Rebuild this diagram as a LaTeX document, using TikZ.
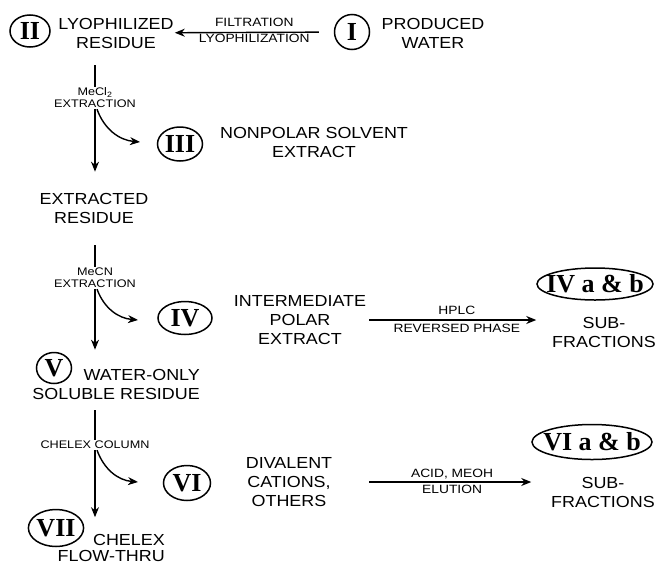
\documentclass[tikz,border=0pt]{standalone}
\usepackage{fontspec}
\setmainfont{Liberation Serif}
\setsansfont[FakeStretch=1.12]{Liberation Sans}
\newfontfamily\lblfont[FakeStretch=1.15]{Liberation Sans}
\usetikzlibrary{shapes.geometric,arrows.meta}

\begin{document}
\begin{tikzpicture}[x=1pt,y=-1pt]
	\tikzstyle{frac} = [ellipse,draw,line width=1.5pt,inner sep=0pt,font=\rmfamily\bfseries\fontsize{26}{26}\selectfont]
	\tikzstyle{txt}  = [align=center,inner sep=1pt,font=\sffamily\fontsize{16}{19}\selectfont]
	\tikzstyle{lbl}  = [align=center,inner sep=1pt,font=\lblfont\fontsize{12}{13}\selectfont]
	\tikzstyle{cut}  = [align=center,inner sep=1pt,fill=white,font=\lblfont\fontsize{11}{12}\selectfont]
	\tikzstyle{arr}  = [-{Stealth[length=10pt,width=8pt]},line width=1.4pt]
	\tikzstyle{stem} = [line width=1.4pt]

	\useasboundingbox (0,0) rectangle (660,565);

	\node[frac,minimum width=35pt,minimum height=35pt] (f1) at (352,32) {I};
	\node[txt] (prod) at (433,33) {PRODUCED\\WATER};
	\node[frac,minimum width=40pt,minimum height=32pt] (f2) at (30,31) {II};
	\node[txt] (lyo) at (116,33) {LYOPHILIZED\\RESIDUE};
	\node[frac,minimum width=45pt,minimum height=34pt] (f3) at (180,144) {III};
	\node[txt] (nonpol) at (314,142) {NONPOLAR SOLVENT\\EXTRACT};
	\node[txt] (extres) at (94,208) {EXTRACTED\\RESIDUE};
	\node[frac,minimum width=54pt,minimum height=33pt] (f4) at (185,318) {IV};
	\node[txt] (interm) at (300,320) {INTERMEDIATE\\POLAR\\EXTRACT};
	\node[frac,minimum width=116pt,minimum height=32pt,inner xsep=-8pt] (f4ab) at (595,284) {IV a \& b};
	\node[txt] (sub4) at (604,332) {SUB-\\FRACTIONS};
	\node[frac,minimum width=35pt,minimum height=31pt] (f5) at (54,368) {V};
	\node[txt,align=right,anchor=east] (wor) at (201,384) {WATER-ONLY\\SOLUBLE RESIDUE};
	\node[frac,minimum width=47pt,minimum height=35pt] (f6) at (187,483) {VI};
	\node[txt] (dival) at (289,482) {DIVALENT\\CATIONS,\\OTHERS};
	\node[frac,minimum width=120pt,minimum height=35pt,inner xsep=-7pt] (f6ab) at (592,442) {VI a \& b};
	\node[txt] (sub6) at (603,492) {SUB-\\FRACTIONS};
	\node[frac,minimum width=53pt,minimum height=37pt] (f7) at (56,528) {VII};
	\node[txt,align=right,anchor=east,font=\sffamily\fontsize{16}{16}\selectfont] (flow) at (166,548) {CHELEX\\FLOW-THRU};

	\node[cut] (ex1) at (95,98) {MeCl\textsubscript{2}\\EXTRACTION};
	\node[cut] (ex2) at (95,278) {MeCN\\EXTRACTION};
	\node[cut] (ex3) at (95,445) {CHELEX COLUMN};

	\coordinate (t3) at (140,142);
	\coordinate (t4) at (138,320);
	\coordinate (t6) at (138,482);

	\draw[arr,shorten <=15pt] (f1) -- (lyo)
		node[lbl,midway,above=4pt] {FILTRATION}
		node[lbl,midway,below=0pt] {LYOPHILIZATION};

	\draw[stem,shorten <=16pt] (lyo.south -| ex1) -- (ex1.north);
	\draw[arr,shorten >=20pt] (ex1.south) -- (ex1.south |- extres.north);
	\draw[arr] ([xshift=2pt]ex1.south) to[out=-70,in=175] (t3);

	\draw[stem,shorten <=21pt] (extres.south -| ex2) -- (ex2.north);
	\draw[arr,shorten >=18pt] (ex2.south) -- (ex2.south |- wor.north);
	\draw[arr] ([xshift=2pt]ex2.south) to[out=-70,in=175] (t4);

	\draw[stem,shorten <=10pt] (wor.south -| ex3) -- (ex3.north);
	\draw[arr,shorten >=16pt] (ex3.south) -- (ex3.south |- flow.north);
	\draw[arr] ([xshift=2pt]ex3.south) to[out=-70,in=175] (t6);

	\draw[arr,shorten <=2pt] (interm.east) -- (interm.east -| f4ab.west)
		node[lbl,pos=0.53,above=4pt] {HPLC}
		node[lbl,pos=0.53,below=2pt] {REVERSED PHASE};

	\draw[arr,shorten <=36pt] (dival.east) -- (dival.east -| f6ab.west)
		node[lbl,pos=0.6,above=1pt] {ACID, MEOH}
		node[lbl,pos=0.6,below=1pt] {ELUTION};
\end{tikzpicture}
\end{document}
